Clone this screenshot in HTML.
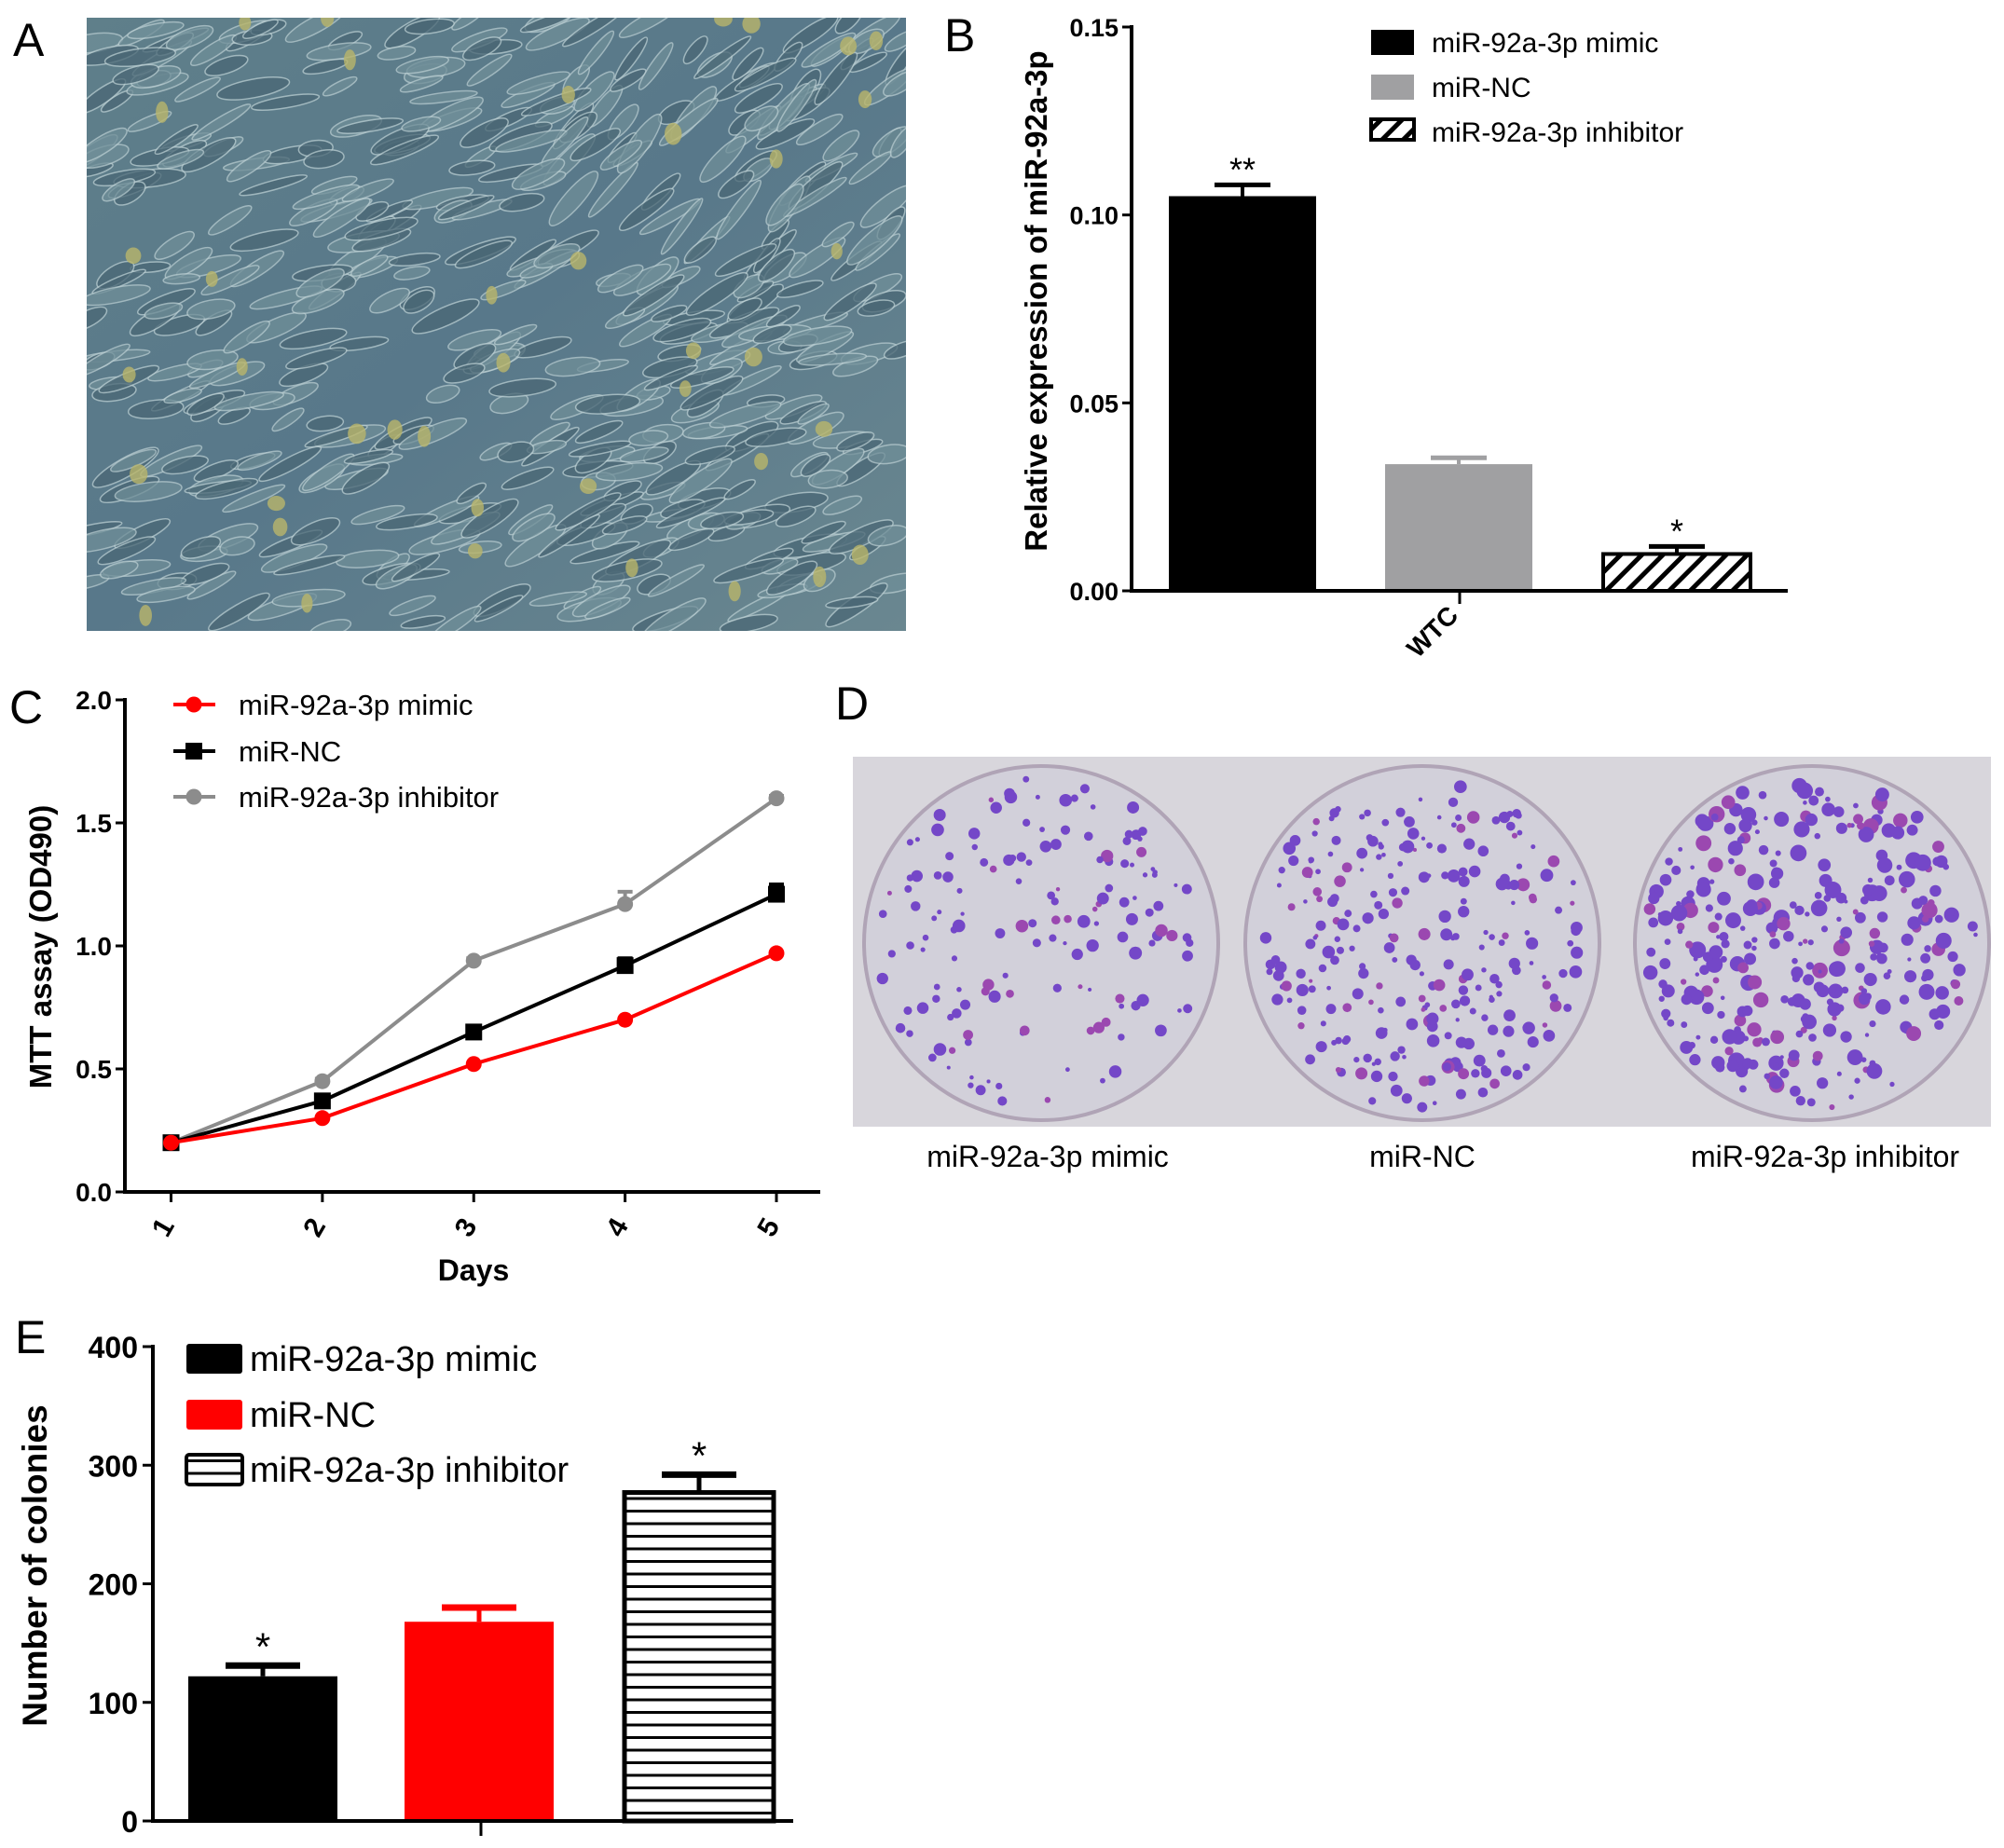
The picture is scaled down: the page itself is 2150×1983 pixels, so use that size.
<!DOCTYPE html>
<html><head><meta charset="utf-8"><style>
html,body{margin:0;padding:0;background:#fff;}
svg{display:block;font-family:"Liberation Sans",Arial,sans-serif;}
</style></head><body>
<svg id="fig" width="2150" height="1983" viewBox="0 0 2150 1983" xmlns="http://www.w3.org/2000/svg">
<defs>
<pattern id="diag" patternUnits="userSpaceOnUse" width="16" height="16" patternTransform="rotate(45)"><rect width="16" height="16" fill="#fff"/><rect width="5" height="16" fill="#000"/></pattern>
<pattern id="horiz" patternUnits="userSpaceOnUse" width="10" height="13.5"><rect width="10" height="13.5" fill="#fff"/><rect y="0" width="10" height="3" fill="#000"/></pattern>
<linearGradient id="cellg" x1="0" y1="0" x2="1" y2="1"><stop offset="0" stop-color="#5f7f8a"/><stop offset="0.5" stop-color="#58788a"/><stop offset="1" stop-color="#6a8790"/></linearGradient>
<clipPath id="aclip"><rect x="93" y="19" width="879" height="658"/></clipPath>
</defs>

<text x="14" y="60" font-size="50">A</text>
<g clip-path="url(#aclip)">
<rect x="93" y="19" width="879" height="658" fill="url(#cellg)"/>
<g id="cells"></g>
</g>

<text x="1013" y="55" font-size="50">B</text>
<g id="chartB"></g>

<text x="10" y="776" font-size="50">C</text>
<g id="chartC"></g>

<text x="896" y="772" font-size="50">D</text>
<g>
<rect x="915" y="812" width="1221" height="397" fill="#d8d6dc"/>
<g id="plates"></g>
</g>
<text x="1124" y="1252" font-size="32" text-anchor="middle">miR-92a-3p mimic</text>
<text x="1526" y="1252" font-size="32" text-anchor="middle">miR-NC</text>
<text x="1958" y="1252" font-size="32" text-anchor="middle">miR-92a-3p inhibitor</text>

<text x="16" y="1452" font-size="50">E</text>
<g id="chartE"></g>
</svg>
<script>
// ---- Panel B data
const bCategories = ["miR-92a-3p mimic","miR-NC","miR-92a-3p inhibitor"];
const bValues = [0.105, 0.0337, 0.0098];
const bErrors = [0.003, 0.0017, 0.002];
const bTicks = [0, 0.05, 0.10, 0.15];
const bTickLabels = ["0.00","0.05","0.10","0.15"];
const bStars = ["**","","*"];
// ---- Panel C data
const cDays = [1,2,3,4,5];
const cMimic = [0.20,0.30,0.52,0.70,0.97];
const cNC = [0.20,0.37,0.65,0.92,1.21];
const cInhibitor = [0.20,0.45,0.94,1.17,1.60];
const cNCErr = [0.01,0.01,0.01,0.03,0.04];
const cInhErr = [0.01,0.01,0.01,0.05,0.01];
const cTicks = [0,0.5,1.0,1.5,2.0];
const cTickLabels = ["0.0","0.5","1.0","1.5","2.0"];
// ---- Panel E data
const eCategories = ["miR-92a-3p mimic","miR-NC","miR-92a-3p inhibitor"];
const eValues = [122,168,277];
const eErrors = [9,12,15];
const eTicks = [0,100,200,300,400];
const eStars = ["*","","*"];

const NS="http://www.w3.org/2000/svg";
function mk(parent,tag,attrs,text){const e=document.createElementNS(NS,tag);for(const k in attrs)e.setAttribute(k,attrs[k]);if(text!==undefined)e.textContent=text;parent.appendChild(e);return e;}

// ---------- Panel A texture (decorative)
(function(){
  const g=document.getElementById('cells');let s=7;
  function r(){s=(s*16807)%2147483647;return s/2147483647;}
  for(let i=0;i<520;i++){
    const x=93+r()*879,y=19+r()*658,rx=18+r()*22,ry=5+r()*5,ang=-35+r()*30+(x>600&&y<300?-20:0);
    const e=mk(g,'ellipse',{cx:x,cy:y,rx:rx,ry:ry,transform:`rotate(${ang} ${x} ${y})`,fill:r()<0.5?'#4a6775':'#6f8e98',stroke:'#b8ccd0','stroke-width':1.5,opacity:0.75});
    
    
  }
  for(let i=0;i<40;i++){
    const x=93+r()*879,y=19+r()*658;
    const e=mk(g,'ellipse',{cx:x,cy:y,rx:6+r()*4,ry:8+r()*4,fill:'#b9b56a',opacity:0.8});
    
    
  }
})();

// ---------- Panel D plates (decorative)
(function(){
  const g=document.getElementById('plates');let s=11;
  function r(){s=(s*16807)%2147483647;return s/2147483647;}
  const cx=[1117,1526,1944],counts=[150,260,330];
  cx.forEach((c,k)=>{
    const p=mk(g,'circle',{cx:c,cy:1012,r:190,fill:'#d2d0da',stroke:'#b0a4b6','stroke-width':4});
    
    
    for(let i=0;i<counts[k];i++){
      const a=r()*Math.PI*2,d=Math.sqrt(r())*178;
      const dot=mk(g,'circle',{cx:c+Math.cos(a)*d,cy:1012+Math.sin(a)*d,r:2+r()*(k===2?7:5),fill:r()<0.8?'#7447c8':'#9b48b0'});
      
      
    }
  });
})();

// ---------- Panel B
(function(){
  const g=document.getElementById('chartB');
  const x0=1214,xEnd=1918,y0=634,yTop=29,max=0.15;
  const y=v=>y0-(v/max)*(y0-yTop);
  const barX=[1254,1486,1720],bw=158;
  const fills=['#000','#a0a0a2','url(#diag)'];
  bValues.forEach((v,i)=>{
    const cxm=barX[i]+bw/2;
    const ey=y(v+bErrors[i]);
    let e=mk(g,'line',{x1:cxm,x2:cxm,y1:y(v),y2:ey,stroke:i===1?'#a0a0a2':'#000','stroke-width':4});
    
    
    e=mk(g,'line',{x1:cxm-30,x2:cxm+30,y1:ey,y2:ey,stroke:i===1?'#a0a0a2':'#000','stroke-width':5});
    
    
    const b=mk(g,'rect',{x:barX[i],y:y(v),width:bw,height:y0-y(v),fill:fills[i],stroke:i===2?'#000':'none','stroke-width':4});
    
    
    if(bStars[i]){const t=mk(g,'text',{x:cxm,y:ey-4,'font-size':36,'text-anchor':'middle'},bStars[i]);
      
      }
  });
  let a=mk(g,'line',{x1:x0,x2:x0,y1:yTop-2,y2:y0+2,stroke:'#000','stroke-width':4});
  
  
  a=mk(g,'line',{x1:x0-2,x2:xEnd,y1:y0,y2:y0,stroke:'#000','stroke-width':4});
  
  
  bTicks.forEach((v,i)=>{
    const t=mk(g,'line',{x1:x0-10,x2:x0,y1:y(v),y2:y(v),stroke:'#000','stroke-width':3});
    
    
    const l=mk(g,'text',{x:x0-14,y:y(v)+10,'font-size':27,'font-weight':'bold','text-anchor':'end'},bTickLabels[i]);
    
    
  });
  let t=mk(g,'line',{x1:1566,x2:1566,y1:y0,y2:y0+14,stroke:'#000','stroke-width':3});
  
  
  t=mk(g,'text',{x:1566,y:662,'font-size':28,'font-weight':'bold','text-anchor':'end',transform:'rotate(-45 1566 662)'},'WTC');
  
  
  t=mk(g,'text',{x:1123,y:323,'font-size':33,'font-weight':'bold','text-anchor':'middle',transform:'rotate(-90 1123 323)'},'Relative expression of miR-92a-3p');
  
  
  const ly=[32,80,128],lf=['#000','#a0a0a2','url(#diag)'];
  bCategories.forEach((c,i)=>{
    const r=mk(g,'rect',{x:1471,y:ly[i],width:46,height:i===2?22:27,fill:lf[i],stroke:i===2?'#000':'none','stroke-width':4});
    
    
    const tx=mk(g,'text',{x:1536,y:ly[i]+24,'font-size':30},c);
    
    
  });
})();

// ---------- Panel C
(function(){
  const g=document.getElementById('chartC');
  const x0=134,xEnd=880,y0=1279,yTop=751,max=2;
  const y=v=>y0-(v/max)*(y0-yTop);
  const x=d=>183.5+(d-1)*(833-183.5)/4;
  let a=mk(g,'line',{x1:x0,x2:x0,y1:yTop-2,y2:y0+2,stroke:'#000','stroke-width':4});
  
  
  a=mk(g,'line',{x1:x0-2,x2:xEnd,y1:y0,y2:y0,stroke:'#000','stroke-width':4});
  
  
  cTicks.forEach((v,i)=>{
    const t=mk(g,'line',{x1:x0-10,x2:x0,y1:y(v),y2:y(v),stroke:'#000','stroke-width':3});
    
    
    const l=mk(g,'text',{x:x0-14,y:y(v)+10,'font-size':28,'font-weight':'bold','text-anchor':'end'},cTickLabels[i]);
    
    
  });
  cDays.forEach(d=>{
    const t=mk(g,'line',{x1:x(d),x2:x(d),y1:y0,y2:y0+11,stroke:'#000','stroke-width':3});
    
    
    const l=mk(g,'text',{x:x(d),y:1322,'font-size':30,'font-weight':'bold','text-anchor':'middle',transform:`rotate(-60 ${x(d)} 1322)`},String(d));
    
    
  });
  let t=mk(g,'text',{x:508,y:1374,'font-size':32,'font-weight':'bold','text-anchor':'middle'},'Days');
  
  
  t=mk(g,'text',{x:55,y:1016,'font-size':33,'font-weight':'bold','text-anchor':'middle',transform:'rotate(-90 55 1016)'},'MTT assay (OD490)');
  
  
  const series=[[cInhibitor,'#8c8c8c','circle',cInhErr,'inhibitor'],[cNC,'#000','square',cNCErr,'nc'],[cMimic,'#f00','circle',null,'mimic']];
  series.forEach(([vals,col,shape,err,nm])=>{
    const pl=mk(g,'polyline',{points:vals.map((v,i)=>x(cDays[i])+','+y(v)).join(' '),fill:'none',stroke:col,'stroke-width':4});
    
    
    vals.forEach((v,i)=>{
      if(err){const eb=mk(g,'line',{x1:x(cDays[i]),x2:x(cDays[i]),y1:y(v),y2:y(v+err[i]),stroke:col,'stroke-width':4});
        
        
        const ec=mk(g,'line',{x1:x(cDays[i])-8,x2:x(cDays[i])+8,y1:y(v+err[i]),y2:y(v+err[i]),stroke:col,'stroke-width':4});
        
        }
      const m=shape==='circle'?mk(g,'circle',{cx:x(cDays[i]),cy:y(v),r:8.5,fill:col}):mk(g,'rect',{x:x(cDays[i])-9,y:y(v)-9,width:18,height:18,fill:col});
      
      
    });
  });
  const leg=[['miR-92a-3p mimic','#f00','circle',756],['miR-NC','#000','square',806],['miR-92a-3p inhibitor','#8c8c8c','circle',855]];
  leg.forEach(([lab,col,shape,ly],i)=>{
    const l=mk(g,'line',{x1:186,x2:231,y1:ly,y2:ly,stroke:col,'stroke-width':4});
    
    
    const m=shape==='circle'?mk(g,'circle',{cx:208,cy:ly,r:8.5,fill:col}):mk(g,'rect',{x:199,y:ly-9,width:18,height:18,fill:col});
    
    
    const tx=mk(g,'text',{x:256,y:ly+11,'font-size':31},lab);
    
    
  });
})();

// ---------- Panel E
(function(){
  const g=document.getElementById('chartE');
  const x0=164,xEnd=851,y0=1954,yTop=1445,max=400;
  const y=v=>y0-(v/max)*(y0-yTop);
  const barX=[202,434,670],bw=160;
  const fills=['#000','#f00','url(#horiz)'];
  eValues.forEach((v,i)=>{
    const cxm=barX[i]+bw/2,ey=y(v+eErrors[i]);
    const col=i===1?'#f00':'#000';
    let e=mk(g,'line',{x1:cxm,x2:cxm,y1:y(v),y2:ey,stroke:col,'stroke-width':5});
    
    
    e=mk(g,'line',{x1:cxm-40,x2:cxm+40,y1:ey,y2:ey,stroke:col,'stroke-width':7});
    
    
    const b=mk(g,'rect',{x:barX[i],y:y(v),width:bw,height:y0-y(v),fill:fills[i],stroke:i===2?'#000':'none','stroke-width':5});
    
    
    if(eStars[i]){const t=mk(g,'text',{x:cxm,y:ey-6,'font-size':42,'text-anchor':'middle'},eStars[i]);
      
      }
  });
  let a=mk(g,'line',{x1:x0,x2:x0,y1:yTop-2,y2:y0+2,stroke:'#000','stroke-width':4});
  
  
  a=mk(g,'line',{x1:x0-2,x2:xEnd,y1:y0,y2:y0,stroke:'#000','stroke-width':4});
  
  
  eTicks.forEach(v=>{
    const t=mk(g,'line',{x1:x0-11,x2:x0,y1:y(v),y2:y(v),stroke:'#000','stroke-width':3});
    
    
    const l=mk(g,'text',{x:x0-16,y:y(v)+12,'font-size':32,'font-weight':'bold','text-anchor':'end'},String(v));
    
    
  });
  let t=mk(g,'line',{x1:516,x2:516,y1:y0,y2:y0+16,stroke:'#000','stroke-width':3});
  
  
  t=mk(g,'text',{x:50,y:1680,'font-size':37,'font-weight':'bold','text-anchor':'middle',transform:'rotate(-90 50 1680)'},'Number of colonies');
  
  
  const ly=[1442,1502,1561],lf=['#000','#f00','url(#horiz)'];
  eCategories.forEach((c,i)=>{
    const r=mk(g,'rect',{x:200,y:ly[i],width:60,height:32,fill:lf[i],rx:3,stroke:i===2?'#000':'none','stroke-width':4});
    
    
    const tx=mk(g,'text',{x:268,y:ly[i]+29,'font-size':38},c);
    
    
  });
})();
</script>
</body></html>
